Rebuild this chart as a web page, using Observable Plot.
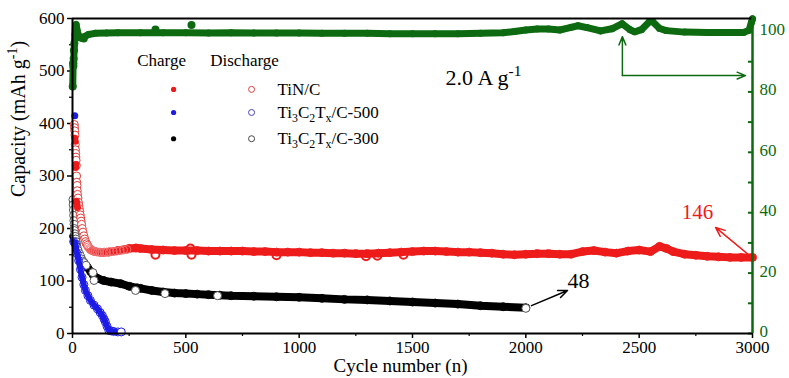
<!DOCTYPE html>
<html><head><meta charset="utf-8">
<script src="https://cdn.jsdelivr.net/npm/d3@7"></script>
<script src="https://cdn.jsdelivr.net/npm/@observablehq/plot@0.6"></script>
<style>body{margin:0;background:#fff} #chart{width:789px;height:378px}</style>
</head><body><div id="chart"></div>
<script>
// ---------- data ----------
const xTicks = [0, 500, 1000, 1500, 2000, 2500, 3000];
const xMinor = [250, 750, 1250, 1750, 2250, 2750];
const yTicks = [0, 100, 200, 300, 400, 500, 600];
const yMinor = [50, 150, 250, 350, 450, 550];
const rightTicks = [0, 20, 40, 60, 80, 100];
const rightMinor = [10, 30, 50, 70, 90];
const effPerCap = 5.752; // 100 % on right axis = 575.2 on left axis

// TiN/C (capacity, mAh/g)
const tinCharge = [[10,372],[12,366],[13,320],[14,316],[15,322],[17,252],[19,248],[22,240]];
const tinDischargeEarly = [[8,398],[9,392],[10,386],[11,378],[12,360],[13,350],[14,343],[15,336],[16,330],[17,320],[18,300],[19,288],[20,282],[21,272],[22,265],[24,258],[26,250],[28,244],[30,238],[32,232],[34,226],[36,220],[38,214],[40,208],[43,200],[46,193],[50,186],[54,180],[58,175],[62,171],[66,168],[70,165],[75,162],[80,160],[86,158],[92,157],[100,156],[110,155],[120,155],[130,154],[140,155],[150,155],[165,156],[180,156],[195,157],[210,158],[225,159],[240,160]];
const tinBand = [[60,172],[70,165],[80,160],[100,156],[130,154],[160,155],[200,158],[250,162],[280,163],[300,162],[350,160],[400,159],[450,158],[500,158],[550,158],[600,157],[650,157],[700,157],[750,157],[800,156],[850,156],[900,155],[950,155],[1000,155],[1050,154],[1100,154],[1150,153],[1200,153],[1250,152],[1300,152],[1350,153],[1400,154],[1450,155],[1500,156],[1550,157],[1600,157],[1650,156],[1700,155],[1750,155],[1800,154],[1850,153],[1900,151],[1950,150],[2000,151],[2050,152],[2100,152],[2150,151],[2200,151],[2250,156],[2300,158],[2350,155],[2400,153],[2450,157],[2500,159],[2550,156],[2590,166],[2620,162],[2650,156],[2700,151],[2750,149],[2800,147],[2850,146],[2900,145],[2950,145],[3000,145]];
const tinScatter = [[366,150],[525,150],[520,162],[900,149],[1295,147],[1345,148],[1460,150]];

// Ti3C2Tx/C-500
const c500Charge = [[10,415]];
const c500Band = [[5,175],[13,170],[20,152],[27,139],[35,122],[42,107],[50,93],[57,82],[68,72],[79,63],[95,54],[110,47],[122,40],[132,34],[140,27],[145,22],[152,14],[160,6],[170,5],[181,4],[200,3]];
const c500End = [[215,3]];

// Ti3C2Tx/C-300
const c300Early = [[2,255],[3,245],[4,235],[5,225],[6,215],[7,208],[8,200],[9,196],[10,190],[12,185],[14,180],[16,175],[18,170],[20,165],[25,158],[30,152],[35,147],[40,142],[45,138],[50,135],[60,130]];
const c300Band = [[5,185],[10,175],[20,160],[35,145],[50,135],[66,126],[80,118],[93,110],[110,105],[137,101],[170,98],[212,95],[250,90],[286,87],[300,86],[350,82],[400,79],[450,77],[500,76],[550,75],[600,74],[650,73],[700,72],[800,71],[900,70],[1000,69],[1100,67],[1200,65],[1300,64],[1400,62],[1500,60],[1600,58],[1700,56],[1800,53],[1900,51],[2000,49]];
const c300Scatter = [[90,116],[95,101],[278,82],[408,76],[640,72]];
const c300End = [[2000,48]];

// Coulombic efficiency (%)
const effBand = [[1,81.8],[3,89.7],[5,89.5],[7,93.7],[9,96],[11,99],[13,102],[16,102.3],[20,100.5],[25,99],[30,98],[40,97.8],[50,98.2],[70,99],[100,99.4],[150,99.5],[200,99.6],[300,99.6],[400,99.6],[500,99.6],[600,99.5],[700,99.6],[800,99.5],[900,99.5],[1000,99.5],[1100,99.4],[1200,99.4],[1300,99.4],[1400,99.3],[1500,99.3],[1600,99.3],[1700,99.3],[1800,99.4],[1900,99.6],[1950,100],[2000,100.5],[2050,100.8],[2100,100.8],[2150,100.5],[2200,101.4],[2230,101.9],[2270,101.3],[2330,100.2],[2380,100.9],[2425,102.6],[2460,100.6],[2480,99.9],[2510,100.6],[2545,103.2],[2560,103.2],[2590,101],[2620,100.3],[2700,99.8],[2800,99.7],[2900,99.7],[2960,99.7],[2985,100.4],[2995,103],[3000,104.2]];
const effScatter = [[1,81.8],[3,89.5],[4,88.7],[5,91],[6,93.7],[8,96],[50,97.7],[366,100.7],[525,102.2]];

const legendLabels = ["TiN/C", "Ti_{3}C_{2}T_{x}/C-500", "Ti_{3}C_{2}T_{x}/C-300"];

// ---------- styles ----------
const RED = "#ee1b1b", BLUE = "#1c1ce6", BLACK = "#000000", GREEN = "#0d6a10", GREY = "#555";
const legendColors = [RED, BLUE, BLACK];
const legendOpen = ["#d94040", "#4646b4", "#444"];
const X = d => d[0], Y = d => d[1], E = d => d[1] * effPerCap;

function band(data, color, opts = {}) {
  return [
    Plot.line(data, {x: X, y: Y, stroke: color, strokeWidth: opts.w ?? 7, strokeLinejoin: "round", strokeLinecap: "round"}),
    Plot.dot(data, {x: X, y: Y, r: 4, stroke: color, fill: "none", strokeWidth: 1})
  ];
}

const plot = Plot.plot({
  width: 789, height: 378,
  marginLeft: 72, marginRight: 37, marginTop: 18, marginBottom: 45,
  x: {domain: [0, 3000]},
  y: {domain: [0, 600]},
  style: {fontFamily: '"Liberation Serif", "Times New Roman", serif', fontSize: "17px", color: "black", background: "white", overflow: "visible"},
  marks: [
    // axes
    Plot.axisX({ticks: xTicks, tickSize: 5, tickPadding: 2, fontSize: 17, tickFormat: d => String(d), label: null, strokeWidth: 1.5}),
    Plot.axisX({ticks: xMinor, tickSize: 3, tickFormat: () => "", label: null, strokeWidth: 1.2}),
    Plot.axisY({ticks: yTicks, tickSize: 5, tickPadding: 3, fontSize: 17, tickFormat: d => String(d), label: null, strokeWidth: 1.5}),
    Plot.axisY({ticks: yMinor, tickSize: 3, tickFormat: () => "", label: null, strokeWidth: 1.2}),
    Plot.axisY({anchor: "right", ticks: rightTicks.map(v => v * effPerCap), tickFormat: d => String(Math.round(d / effPerCap)), tickSize: 0, tickPadding: 7, dy: -2, fontSize: 17, color: GREEN, label: null}),
    Plot.ruleY(rightTicks.concat(rightMinor).map(v => v * effPerCap), {y: d => d, x1: 2982, x2: 3000, stroke: GREEN, strokeWidth: 2}),

    // series: Ti3C2Tx/C-300
    ...band(c300Band, BLACK, {w: 8}),
    Plot.dot(c300Early, {x: X, y: Y, r: 4, stroke: GREY, fill: "white", strokeWidth: 1}),
    Plot.dot(c300Scatter, {x: X, y: Y, r: 4, stroke: GREY, fill: "white", strokeWidth: 1}),
    // Ti3C2Tx/C-500
    ...band(c500Band, BLUE, {w: 6}),
    Plot.dot(c500Charge, {x: X, y: Y, r: 3.5, fill: BLUE}),
    Plot.dot(c500End, {x: X, y: Y, r: 4, stroke: BLUE, fill: "white", strokeWidth: 1}),
    // TiN/C
    ...band(tinBand, RED, {w: 8}),
    Plot.dot(tinDischargeEarly, {filter: d => d[0] < 70, x: X, y: Y, r: 4, stroke: "#e23a3a", fill: "white", strokeWidth: 1}),
    Plot.dot(tinDischargeEarly, {filter: d => d[0] >= 70, x: X, y: Y, r: 4, stroke: "#f07070", fill: "none", strokeWidth: 1}),
    Plot.dot(tinCharge, {x: X, y: Y, r: 3.5, fill: RED}),
    Plot.dot(tinScatter, {x: X, y: Y, r: 4, stroke: RED, fill: "none", strokeWidth: 2}),
    Plot.dot(c300End, {x: X, y: Y, r: 4, stroke: GREY, fill: "white", strokeWidth: 1}),
    // Coulombic efficiency
    Plot.line(effBand, {x: X, y: E, stroke: GREEN, strokeWidth: 7, strokeLinejoin: "round", strokeLinecap: "round"}),
    Plot.dot(effBand, {x: X, y: E, r: 3.5, fill: GREEN}),
    Plot.dot(effScatter, {x: X, y: E, r: 4, fill: GREEN}),

    // frame
    Plot.ruleY([600], {stroke: BLACK, strokeWidth: 2}),
    Plot.ruleY([0], {stroke: BLACK, strokeWidth: 2}),
    Plot.ruleX([0], {stroke: BLACK, strokeWidth: 2}),
    Plot.ruleX([3000], {stroke: GREEN, strokeWidth: 2.5}),

    // annotations: arrows
    Plot.arrow([0], {x1: 2426, y1: 85.4 * effPerCap, x2: 2426, y2: 98.3 * effPerCap, stroke: GREEN, strokeWidth: 1.5, headLength: 9, headAngle: 45}),
    Plot.arrow([0], {x1: 2426, y1: 85.4 * effPerCap, x2: 2969, y2: 85.4 * effPerCap, stroke: GREEN, strokeWidth: 1.5, headLength: 9, headAngle: 45}),
    Plot.arrow([0], {x1: 2025, y1: 53, x2: 2184, y2: 82, stroke: BLACK, strokeWidth: 1.5, headLength: 10, headAngle: 45}),
    Plot.arrow([0], {x1: 2991, y1: 147, x2: 2837, y2: 202, stroke: RED, strokeWidth: 1.5, headLength: 10, headAngle: 45}),

    // annotation texts
    Plot.text(["48"], {x: 2232, y: 101, text: d => d, fontSize: 22, fill: BLACK}),
    Plot.text(["146"], {x: 2757, y: 230, text: d => d, fontSize: 21, fill: RED}),
    Plot.text(["2.0 A g^{-1}"], {x: 1646, y: 486, text: d => d, fontSize: 22, textAnchor: "start", fill: BLACK}),

    // legend
    Plot.text(["Charge"], {x: 393, y: 520, text: d => d, fontSize: 17}),
    Plot.text(["Discharge"], {x: 759, y: 520, text: d => d, fontSize: 17}),
    Plot.dot(legendLabels, {x: 446, y: (d, i) => [465, 421, 371][i], r: 2.6, fill: (d, i) => legendColors[i]}),
    Plot.dot(legendLabels, {x: 790, y: (d, i) => [465, 421, 371][i], r: 3, stroke: (d, i) => legendOpen[i], fill: "white", strokeWidth: 1}),
    Plot.text(legendLabels, {x: 904, y: (d, i) => [465, 421, 371][i], text: d => d, textAnchor: "start", fontSize: 17}),

    // axis titles
    Plot.text(["Cycle number (n)"], {frameAnchor: "bottom", text: d => d, dx: -12, dy: 38.5, fontSize: 19}),
    Plot.text(["Capacity (mAh g^{-1})"], {frameAnchor: "left", text: d => d, dx: -54, dy: 21, rotate: -90, fontSize: 20})
  ]
});

document.getElementById("chart").append(plot);

// sub/superscript markup: _{..} and ^{..}
d3.select(plot).selectAll("text").each(function () {
  const t = this.textContent;
  if (!/[_^]\{/.test(t)) return;
  const fs = parseFloat(getComputedStyle(this).fontSize) || 17;
  const el = d3.select(this);
  el.text(null);
  const re = /([_^])\{([^}]*)\}/g;
  let last = 0, m, off = 0;
  const normal = s => { const ts = el.append("tspan").text(s); if (off !== 0) { ts.attr("dy", -off); off = 0; } };
  while ((m = re.exec(t))) {
    if (m.index > last) normal(t.slice(last, m.index));
    const target = m[1] === "_" ? 0.25 * fs : -0.42 * fs;
    el.append("tspan").attr("dy", target - off).attr("font-size", (0.7 * fs) + "px").text(m[2]);
    off = target;
    last = re.lastIndex;
  }
  if (last < t.length) normal(t.slice(last));
});
</script>
</body></html>
